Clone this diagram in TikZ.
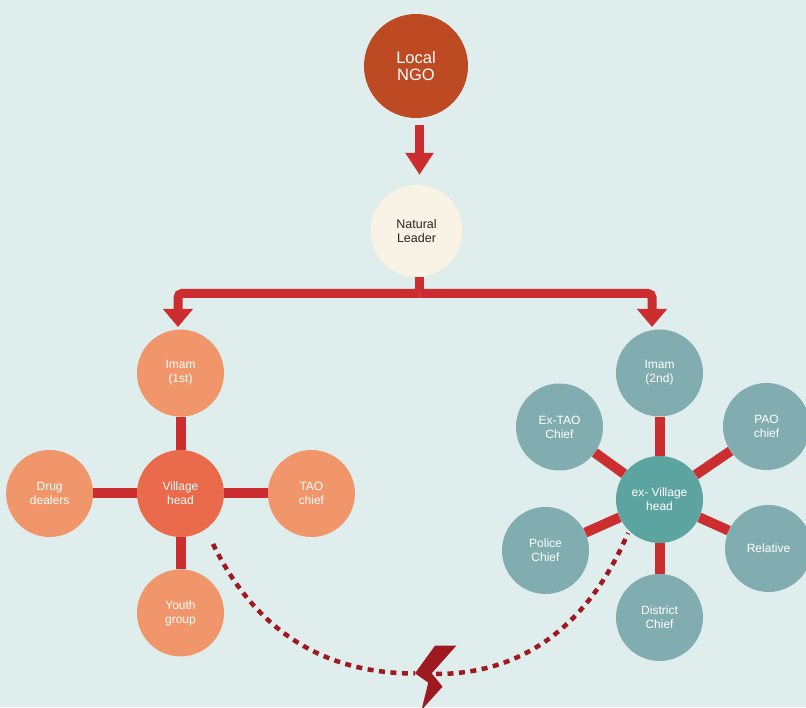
\documentclass[tikz,border=0pt]{standalone}
\usepackage{fontspec}
\setmainfont{Liberation Sans}
\usetikzlibrary{arrows.meta,positioning}
\definecolor{paper}{HTML}{DFEDEC}
\definecolor{ngorust}{HTML}{BE4A24}
\definecolor{leadercream}{HTML}{F8F3E4}
\definecolor{feedred}{HTML}{CC2E2F}
\definecolor{memberorange}{HTML}{F0966A}
\definecolor{headorange}{HTML}{E96B4B}
\definecolor{exmemberteal}{HTML}{81ADB1}
\definecolor{exheadteal}{HTML}{5CA4A0}
\definecolor{riftred}{HTML}{9E1A20}
\tikzstyle{Ngo} = [circle, fill=ngorust, minimum size=104pt, inner sep=0pt, text=white, align=center, font=\fontsize{16.5}{16.5}\selectfont]
\tikzstyle{Leader} = [circle, fill=leadercream, minimum size=92pt, inner sep=0pt, text=black!85, align=center, font=\fontsize{12.5}{14}\selectfont]
\tikzstyle{Member} = [circle, fill=memberorange, minimum size=87pt, inner sep=0pt, text=white, align=center, font=\fontsize{12}{14}\selectfont]
\tikzstyle{Head} = [Member, fill=headorange]
\tikzstyle{ExMember} = [Member, fill=exmemberteal]
\tikzstyle{ExHead} = [Member, fill=exheadteal]
\tikzstyle{Feed} = [draw=feedred, line width=9pt]
\tikzstyle{Link} = [draw=feedred, line width=10pt]
\tikzstyle{Rift} = [draw=riftred, line width=4.5pt, dash pattern=on 6pt off 5.5pt]

\begin{document}
\begin{tikzpicture}[x=1pt,y=1pt]
    \fill[paper] (0,0) rectangle (806,707);
    \useasboundingbox (0,0) rectangle (806,707);
    % NGO reaches the natural leader
    \node[Ngo]    (ngo)    at (416,641)   {Local\\NGO};
    \node[Leader] (leader) at (416.5,476) {Natural\\Leader};
    \draw[Feed,-{Triangle[width=27pt,length=22pt]}] ([xshift=3.5pt,yshift=-7pt]ngo.south) -- ([xshift=3pt,yshift=10pt]leader.north);
    \coordinate (split) at (419.5,413.5);
    \coordinate (lt)    at (178,380);
    \coordinate (rt)    at (652,380);
    \draw[Feed] ([xshift=3pt]leader.south) -- (split);
    \draw[Feed,rounded corners=4pt,-{Triangle[width=29pt,length=18pt]}] (split) -| (lt);
    \draw[Feed,rounded corners=4pt,-{Triangle[width=29pt,length=18pt]}] (split) -| (rt);
    % current village head
    \node[Head]   (vh)    at (180.5,213.5)   {Village\\head};
    \node[Member] (imam1) [above=33pt of vh]   {Imam\\(1st)};
    \node[Member] (drug)  [left=43.5pt of vh]  {Drug\\dealers};
    \node[Member] (tao)   [right=43.5pt of vh] {TAO\\chief};
    \node[Member] (youth) [below=32pt of vh]   {Youth\\group};
    \foreach \n in {imam1,drug,tao,youth}
        \draw[Link] (vh) -- (\n);
    % former village head
    \node[ExHead]   (xvh)      at (659.5,207.5) {ex- Village\\head};
    \node[ExMember] (imam2)    at (659.5,334)   {Imam\\(2nd)};
    \node[ExMember] (extao)    at (559.5,280)   {Ex-TAO\\Chief};
    \node[ExMember] (pao)      at (766.5,280.5) {PAO\\chief};
    \node[ExMember] (police)   at (545.5,156.5) {Police\\Chief};
    \node[ExMember] (relative) at (768.5,158.5) {Relative};
    \node[ExMember] (district) at (659.5,89.5)  {District\\Chief};
    \foreach \n in {imam2,extao,pao,police,relative,district}
        \draw[Link] (xvh) -- (\n);
    % conflict between the two
    \fill[riftred] (435,61.3) -- (456.3,61.3) -- (431.7,33.7) -- (442.5,20.3) -- (421.5,-3) -- (428.3,24.3) -- (415,33.7) -- cycle;
    \coordinate (boltL)  at (415,33.5);
    \coordinate (boltR)  at (436,33);
    \coordinate (fromvh) at (213,163);
    \coordinate (toxvh)  at (628,174);
    \draw[Rift] (fromvh) to[out=-64,in=180] (boltL);
    \draw[Rift] (boltR) to[out=0,in=247] (toxvh);
\end{tikzpicture}
\end{document}
